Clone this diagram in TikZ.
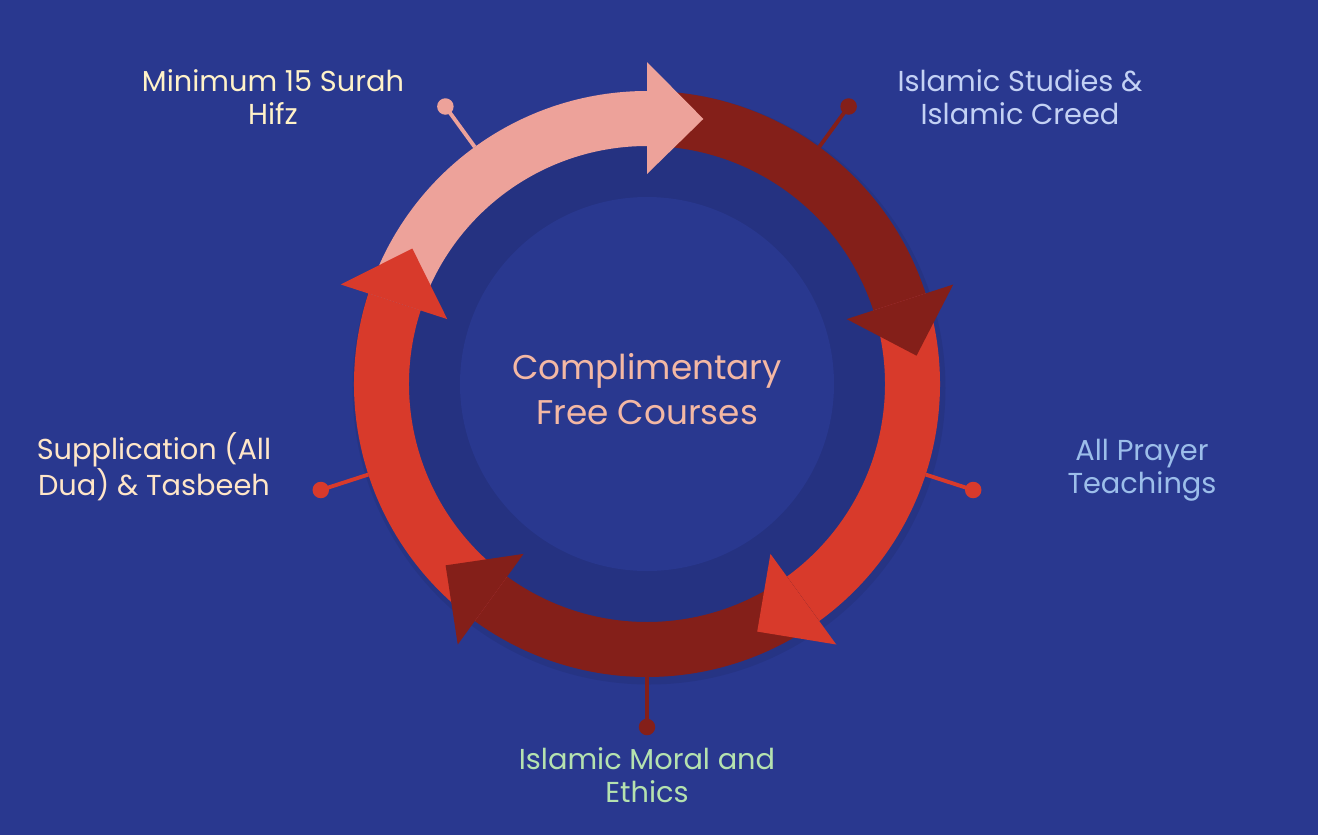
\documentclass[tikz,border=0pt]{standalone}
\usepackage{fontspec}
\setmainfont{Poppins}
\usetikzlibrary{calc}
\definecolor{bgblue}{HTML}{29388F}
\definecolor{ringshade}{HTML}{253281}
\definecolor{petal}{HTML}{EDA29A}
\definecolor{brick}{HTML}{D83A2B}
\definecolor{dkred}{HTML}{841F19}
\definecolor{cream}{HTML}{FFF2C8}
\definecolor{peach}{HTML}{FFE6C8}
\definecolor{lavblue}{HTML}{C3D1F4}
\definecolor{skyblue}{HTML}{9CBEEA}
\definecolor{mint}{HTML}{B5E2AF}
\definecolor{salmon}{HTML}{F4B8A4}

% ring band between two angles, and the arrow head at an angle
\newcommand{\ringband}[3]{%
  \fill[#1] (#2:5.86) arc[start angle=#2, end angle=#3, radius=5.86]
    -- (#3:4.76) arc[start angle=#3, end angle=#2, radius=4.76] -- cycle;}
\newcommand{\ringhead}[2]{%
  \fill[#1] (#2:4.2) -- (#2:6.44) -- ({#2-12}:5.42) -- cycle;}

\begin{document}
\begin{tikzpicture}[
  dot/.style={circle, inner sep=0pt, minimum size=0.33cm},
  leader/.style={line width=2.2pt},
  label/.style={align=center, font=\fontsize{16.4}{19}\selectfont}
]

% Background
\fill[bgblue] (-12.94,-9.02) rectangle (13.42,7.68);
\useasboundingbox (-12.94,-9.02) rectangle (13.42,7.68);

% soft shadow and inner discs
\fill[black, opacity=0.07] (0.04,-0.08) circle (5.93);
\fill[ringshade] (0,0) circle (4.8);
\fill[bgblue] (0,0) circle (3.74);

% ================================================================
% Arrow bodies (clockwise)
% ================================================================
\ringband{petal}{162}{90}
\ringband{dkred}{90}{18}
\ringband{brick}{18}{-54}
\ringband{dkred}{-54}{-126}
\ringband{brick}{-126}{-198}

% ================================================================
% Arrow heads (on top of the next body)
% ================================================================
\ringhead{petal}{90}
\ringhead{dkred}{18}
\ringhead{brick}{-54}
\ringhead{dkred}{-126}
\ringhead{brick}{162}

% ================================================================
% Leaders with dots
% ================================================================
\coordinate (e1) at (126:5.86);
\coordinate (e2) at (54:5.86);
\coordinate (e3) at (-18:5.86);
\coordinate (e4) at (-90:5.86);
\coordinate (e5) at (-162:5.86);

\node[dot, fill=petal] (d1) at (126:6.86) {};
\node[dot, fill=dkred] (d2) at (54:6.86) {};
\node[dot, fill=brick] (d3) at (-18:6.86) {};
\node[dot, fill=dkred] (d4) at (-90:6.86) {};
\node[dot, fill=brick] (d5) at (-162:6.86) {};

\draw[leader, petal] (e1) -- (d1.center);
\draw[leader, dkred] (e2) -- (d2.center);
\draw[leader, brick] (e3) -- (d3.center);
\draw[leader, dkred] (e4) -- (d4.center);
\draw[leader, brick] (e5) -- (d5.center);

% ================================================================
% Labels
% ================================================================
\node[label, text=salmon, font=\fontsize{19.5}{25.6}\selectfont] (centre) at (0,-0.1)
  {Complimentary\\Free Courses};

\node[label, text=cream] (hifz) at (-7.48,5.74) {Minimum 15 Surah\\Hifz};
\node[label, text=lavblue] (studies) at (7.46,5.74) {Islamic Studies \&\\Islamic Creed};
\node[label, text=skyblue] (prayer) at (9.9,-1.72) {All Prayer\\Teachings};
\node[label, text=mint] (moral) at (0,-7.82) {Islamic Moral and\\Ethics};
\node[label, text=peach] (dua) at (-9.86,-1.66) {Supplication (All\\Dua) \& Tasbeeh};

\end{tikzpicture}
\end{document}
